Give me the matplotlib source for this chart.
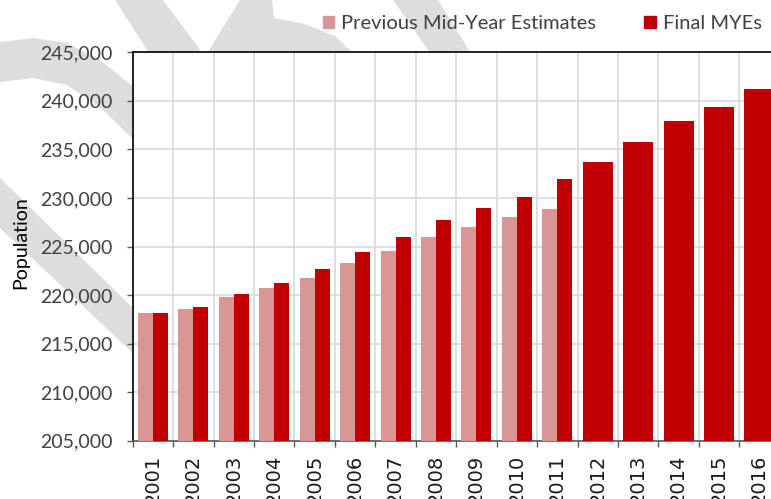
import matplotlib
matplotlib.use("Agg")
import matplotlib.pyplot as plt
import matplotlib.patches as mpatches
from matplotlib.ticker import FuncFormatter, FixedLocator
import numpy as np

# ── Data ──────────────────────────────────────────────────────────────
years = ["2001", "2002", "2003", "2004", "2005", "2006", "2007", "2008",
         "2009", "2010", "2011", "2012", "2013", "2014", "2015", "2016"]
previous_myes = [218150, 218550, 219800, 220700, 221800, 223250, 224550,
                 226000, 227000, 228000, 228850]
final_myes = [218150, 218800, 220150, 221200, 222650, 224450, 226000,
              227750, 228950, 230050, 231950, 233700, 235800, 237900,
              239350, 241200]
y_ticks = [205000, 210000, 215000, 220000, 225000, 230000, 235000,
           240000, 245000]

LIGHT = "#D99694"
DARK = "#C00000"
TEXT = "#404040"
GRID = "#D9D9D9"

W, H = 771, 499
fig = plt.figure(figsize=(W / 100, H / 100), dpi=100)


def px(x, y):
    return (x / W, 1 - y / H)


# ── Background swoosh ─────────────────────────────────────────────────
swoosh = [
    [(115, 0), (163, 0), (215, 70), (160, 70)],
    [(203, 60), (240, 0), (272, 0), (274, 18), (305, 24), (335, 36),
     (360, 60)],
    [(393, 0), (438, 0), (475, 60), (435, 60)],
    [(0, 42), (33, 38), (67, 43), (100, 60), (140, 92), (140, 146),
     (100, 107), (67, 85), (33, 78), (0, 82)],
    [(0, 178), (140, 315), (140, 360), (0, 228)],
]
for shape in swoosh:
    fig.patches.append(mpatches.Polygon([px(*p) for p in shape],
                                        closed=True, transform=fig.transFigure,
                                        facecolor="#DDDDDD", edgecolor="none",
                                        zorder=-1))

# ── Axes ──────────────────────────────────────────────────────────────
left, right = 132.7 / W, 779.7 / W
bottom, top = 1 - 440.7 / H, 1 - 52.3 / H
ax = fig.add_axes([left, bottom, right - left, top - bottom])
ax.set_facecolor("white")

x = np.arange(len(years))
n_prev = len(previous_myes)
group_w = 0.742
half = group_w / 2

ax.bar(x[:n_prev] - half / 2, previous_myes, width=half, color=LIGHT,
       zorder=3, label="Previous Mid-Year Estimates")
ax.bar(x[:n_prev] + half / 2, final_myes[:n_prev], width=half, color=DARK,
       zorder=3, label="Final MYEs")
ax.bar(x[n_prev:], final_myes[n_prev:], width=group_w, color=DARK, zorder=3)

ax.set_xlim(-0.5, len(years) - 0.5)
ax.set_ylim(y_ticks[0], y_ticks[-1])

ax.yaxis.set_major_locator(FixedLocator(y_ticks))
ax.yaxis.set_major_formatter(FuncFormatter(lambda v, _: f"{v:,.0f}"))
ax.set_xticks(x)
ax.set_xticklabels(years, rotation=90, family="DejaVu Sans",
                   fontsize=14, color="#1a1a1a")
ax.set_xticks(np.arange(len(years) + 1) - 0.5, minor=True)

ax.tick_params(axis="x", which="major", length=0, pad=10)
ax.tick_params(axis="x", which="minor", length=4.3, width=1.0,
               color="#595959")
ax.tick_params(axis="y", length=4.3, width=1.0, color="#595959", pad=10.5,
               labelsize=14, labelcolor=TEXT)
for lab in ax.get_yticklabels():
    lab.set_family("Lato")

ax.grid(axis="y", which="major", color=GRID, linewidth=1.2, zorder=0)
ax.grid(axis="x", which="minor", color=GRID, linewidth=1.2, zorder=0)
ax.set_axisbelow(True)

for side in ("left", "top"):
    ax.spines[side].set_color("black")
    ax.spines[side].set_linewidth(1.2)
ax.spines["bottom"].set_color("#595959")
ax.spines["bottom"].set_linewidth(1.2)
ax.spines["right"].set_visible(False)

fig.text(20.5 / W, 1 - 243 / H, "Population", rotation=90, ha="center",
         va="center", family="Lato", fontsize=14, color="black")

# ── Legend ────────────────────────────────────────────────────────────
handles = [mpatches.Patch(color=LIGHT, label="Previous Mid-Year Estimates"),
           mpatches.Patch(color=DARK, label="Final MYEs")]
fig.legend(handles=handles, loc="center left",
           bbox_to_anchor=px(323, 23.5), ncol=2, frameon=False,
           borderpad=0, borderaxespad=0, handlelength=0.55,
           handleheight=0.55, handletextpad=0.35, columnspacing=2.4,
           prop={"family": "Lato", "size": 14.5}, labelcolor=TEXT)

fig.savefig("out.png", dpi=100)
